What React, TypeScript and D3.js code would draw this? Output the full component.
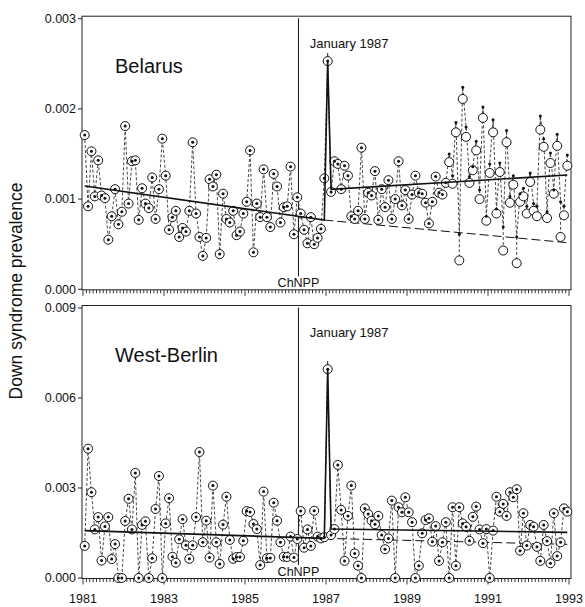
import React from 'react';
import * as d3 from 'd3';

// monthly Down syndrome prevalence (per 1000 births), Jan 1981 .. Dec 1992
const belarusObs = [
  1.71, 0.92, 1.53, 1.03, 1.43, 1.04, 1.01, 0.55, 0.81, 1.11,
  0.72, 0.86, 1.81, 0.95, 1.42, 1.43, 0.77, 1.12, 0.95, 0.9,
  1.24, 0.78, 1.11, 1.67, 1.26, 0.66, 0.8, 0.87, 0.58, 0.68,
  0.64, 0.87, 1.63, 0.84, 0.58, 0.37, 0.57, 1.22, 1.14, 1.27,
  0.39, 1.06, 0.78, 0.74, 0.87, 0.6, 0.64, 0.84, 0.97, 1.54,
  0.41, 0.95, 0.8, 1.33, 0.8, 0.69, 1.28, 1.14, 0.74, 0.91,
  0.92, 1.36, 0.61, 1.02, 0.84, 0.66, 0.51, 0.8, 0.5, 0.57,
  0.67, 1.23, 2.53, 1.08, 1.42, 1.39, 1.11, 1.37, 1.26, 0.81,
  0.78, 0.87, 1.57, 0.78, 1.07, 1.04, 1.31, 0.77, 1.11, 0.91,
  1.21, 0.78, 1.0, 1.42, 0.93, 1.1, 0.78, 1.05, 1.26, 1.07,
  1.06, 0.96, 0.73, 0.97, 1.25, 1.07, 1.05, 1.18, 1.41, 1.17,
  1.74, 0.32, 2.11, 1.69, 1.18, 1.32, 1.54, 1.0, 1.9, 0.76,
  1.29, 1.74, 0.84, 1.3, 0.43, 1.63, 0.96, 1.16, 0.29, 0.97,
  1.03, 0.84, 1.19, 0.87, 0.81, 1.77, 1.58, 0.79, 1.4, 1.06,
  1.59, 0.58, 0.82, 1.37,
];

// months where the small dot sits apart from the circle: [month, value]
const belarusDotsApart: [number, number][] = [
  [108, 1.5], [109, 1.26], [110, 1.85], [111, 0.61], [112, 2.24], [113, 1.8],
  [114, 1.25], [115, 1.36], [116, 1.64], [117, 1.1], [118, 2.02], [119, 0.81],
  [120, 1.39], [121, 1.88], [122, 0.89], [123, 1.4], [124, 0.69], [125, 1.76],
  [126, 1.03], [127, 1.26], [128, 0.58], [129, 1.06], [130, 1.12], [131, 0.92],
  [132, 1.29], [133, 0.95], [134, 0.92], [135, 1.92], [136, 1.67], [137, 0.86],
  [138, 1.51], [139, 1.1], [140, 1.72], [141, 0.97], [142, 0.92], [143, 1.49],
];

const berlinObs = [
  1.07, 4.31, 2.86, 1.62, 2.03, 0.58, 1.72, 2.03, 0.63, 1.13,
  0, 0, 1.9, 2.64, 1.62, 3.5, 0, 1.77, 1.89, 0,
  0.66, 2.3, 3.4, 0, 1.82, 2.66, 0.71, 0.51, 1.29, 1.96,
  1.09, 0.64, 1.09, 2.03, 4.2, 1.19, 1.91, 0.68, 3.08, 1.19,
  0.47, 1.78, 2.71, 1.27, 0.64, 0.7, 0.7, 1.24, 2.23, 2.2,
  1.8, 1.63, 0.43, 2.88, 0.66, 0.67, 2.51, 1.91, 1.19, 0.71,
  0.7, 1.38, 0.68, 1.3, 2.23, 1.01, 1.62, 1.07, 2.24, 1.38,
  1.32, 1.36, 6.96, 1.43, 1.63, 3.77, 2.27, 0.57, 2.07, 3.08,
  0.82, 0.41, 0, 2.32, 2.13, 1.91, 1.79, 2.07, 1.43, 0.96,
  1.32, 2.58, 0, 2.36, 2.19, 2.69, 2.19, 1.86, 0, 0.41,
  1.49, 1.93, 1.99, 1.21, 1.73, 0.57, 1.19, 1.86, 0, 2.36,
  0.41, 2.36, 1.82, 1.71, 1.24, 2.04, 2.38, 1.62, 1.16, 1.63,
  0, 1.58, 2.71, 2.21, 2.47, 2.07, 2.86, 2.69, 2.96, 0.91,
  2.16, 1.08, 1.77, 1.71, 1.04, 0.57, 1.77, 1.23, 0.49, 2.16,
  0.73, 1.19, 2.32, 2.21,
];

// fitted model: [month, value]
const belarusFit: [number, number][] = [[0, 1.145], [71, 0.768], [72, 2.53], [73, 1.108], [143, 1.267]];
const belarusNoEffect: [number, number][] = [[71, 0.768], [143, 0.517]];
const berlinFit: [number, number][] = [[0, 1.578], [71, 1.322], [72, 6.96], [73, 1.633], [143, 1.522]];
const berlinNoEffect: [number, number][] = [[71, 1.322], [143, 1.122]];

const belarusTicks = [0, 1, 2, 3];
const berlinTicks = [0, 3, 6, 9];
const yearLabels = [1981, 1983, 1985, 1987, 1989, 1991, 1993];
const chnppDate = 1986.32;

const FONT = '"Liberation Sans", Arial, Helvetica, sans-serif';
const W = 585, H = 607;

const x = d3.scaleLinear().domain([1981, 1993]).range([83, 569]);
const monthT = (i: number) => 1981 + (i + 0.5) / 12;

type PanelProps = {
  title: string;
  obs: number[];
  dotsApart: [number, number][];
  fit: [number, number][];
  noEffect: [number, number][];
  ticks: number[];
  top: number;
  bottom: number;
  yLabelsOnX: boolean;
};

function Panel({ title, obs, dotsApart, fit, noEffect, ticks, top, bottom, yLabelsOnX }: PanelProps) {
  const yMax = ticks[ticks.length - 1];
  const y = d3.scaleLinear().domain([0, yMax]).range([bottom, top]);
  const frameTop = top - 2.5;
  const apart = new Map(dotsApart);
  const dots = obs.map((v, i) => (apart.has(i) ? (apart.get(i) as number) : v));

  const line = d3.line<[number, number]>()
    .x(d => x(monthT(d[0])))
    .y(d => y(d[1]));
  const dotPath = d3.line<number>()
    .x((_, i) => x(monthT(i)))
    .y(d => y(d))(dots) || '';

  const months = d3.range(0, 145);
  const xl = x(chnppDate);
  const spike = fit[2];

  return (
    <g>
      {/* frame */}
      <rect x={82} y={frameTop} width={571 - 82} height={bottom + 0.5 - frameTop}
        fill="none" stroke="#222" strokeWidth={1} />
      {/* y axis ticks */}
      {ticks.map(t => (
        <g key={t}>
          <line x1={78} x2={82} y1={y(t)} y2={y(t)} stroke="#222" />
          <text x={76} y={y(t)} dy="0.35em" textAnchor="end" fontSize={12.5} fontFamily={FONT} fill="#111">
            {(t / 1000).toFixed(3)}
          </text>
        </g>
      ))}
      {/* x axis ticks */}
      {months.map(m => {
        const yr = 1981 + m / 12;
        const major = m % 24 === 0;
        return (
          <line key={m} x1={x(yr)} x2={x(yr)} y1={bottom + 0.5} y2={bottom + (major ? 6.5 : 4)}
            stroke="#222" strokeWidth={0.9} />
        );
      })}
      {yLabelsOnX && yearLabels.map(yr => (
        <text key={yr} x={x(yr)} y={bottom + 25} textAnchor="middle" fontSize={12.5} fontFamily={FONT} fill="#111">
          {yr}
        </text>
      ))}
      {/* ChNPP marker */}
      <line x1={xl} x2={xl} y1={frameTop + 2} y2={bottom - 13} stroke="#111" strokeWidth={1} />
      <text x={xl} y={bottom - 2} textAnchor="middle" fontSize={12.5} fontFamily={FONT} fill="#111">ChNPP</text>
      <text x={x(monthT(72)) - 18} y={top + 29} fontSize={13} fontFamily={FONT} fill="#111">January 1987</text>
      <text x={115} y={top + 54} fontSize={20} fontFamily={FONT} fill="#111">{title}</text>

      {/* dashed monthly series */}
      <path d={dotPath} fill="none" stroke="#333" strokeWidth={0.9} strokeDasharray="3,2" />
      {obs.map((v, i) => (dots[i] !== v ? (
        <line key={'c' + i} x1={x(monthT(i))} x2={x(monthT(i))} y1={y(dots[i])} y2={y(v)}
          stroke="#333" strokeWidth={0.9} strokeDasharray="3,2" />
      ) : null))}

      {/* trend lines */}
      <path d={line(noEffect) || ''} fill="none" stroke="#111" strokeWidth={1} strokeDasharray="9,4" />
      <line x1={x(monthT(spike[0]))} x2={x(monthT(spike[0]))} y1={y(spike[1]) - 8} y2={y(spike[1])}
        stroke="#111" strokeWidth={1} />

      {/* observed circles */}
      {obs.map((v, i) => (
        <circle key={'o' + i} cx={x(monthT(i))} cy={y(v)} r={4.5} fill="white" stroke="#111" strokeWidth={1} />
      ))}
      <path d={line(fit) || ''} fill="none" stroke="#111" strokeWidth={1.6} />
      {dots.map((v, i) => (
        <circle key={'d' + i} cx={x(monthT(i))} cy={y(v)} r={1.5} fill="#111" />
      ))}
    </g>
  );
}

export default function App() {
  return (
    <svg width={W} height={H} style={{ position: 'absolute', left: 0, top: 0, background: 'white' }}>
      <rect width={W} height={H} fill="white" />
      <Panel title="Belarus" obs={belarusObs} dotsApart={belarusDotsApart} fit={belarusFit}
        noEffect={belarusNoEffect} ticks={belarusTicks} top={18.7} bottom={289.3} yLabelsOnX={false} />
      <Panel title="West-Berlin" obs={berlinObs} dotsApart={[]} fit={berlinFit}
        noEffect={berlinNoEffect} ticks={berlinTicks} top={308} bottom={578} yLabelsOnX={true} />
      <text transform="translate(22,291) rotate(-90)" textAnchor="middle" fontSize={17.5} fontFamily={FONT} fill="#111">
        Down syndrome prevalence
      </text>
    </svg>
  );
}
